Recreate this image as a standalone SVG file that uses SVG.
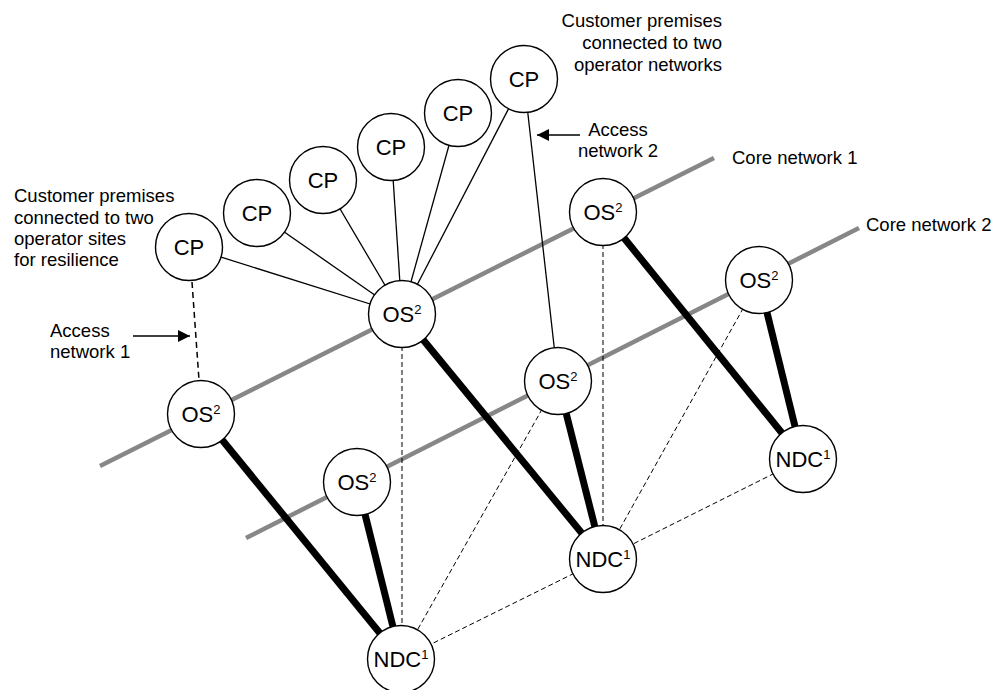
<svg xmlns="http://www.w3.org/2000/svg" width="994" height="690" viewBox="0 0 994 690">
<style>
.core{stroke:#878787;stroke-width:4.5;fill:none}
.thick{stroke:#000;stroke-width:7;fill:none}
.thin{stroke:#000;stroke-width:1.3;fill:none}
.dash{stroke:#000;stroke-width:1;stroke-dasharray:5 3;fill:none}
.dash2{stroke:#000;stroke-width:1.5;stroke-dasharray:6 4;fill:none}
.node circle{fill:#fff;stroke:#000;stroke-width:1.4}
.lbl{font-family:"Liberation Sans",Arial,sans-serif;font-size:22px;text-anchor:middle;fill:#000}
.sup{font-size:13px}
.ann{font-family:"Liberation Sans",Arial,sans-serif;font-size:18.5px;fill:#000}
</style>
<defs>
<marker id="ah" viewBox="0 0 10 10" refX="10" refY="5" markerWidth="13" markerHeight="12" markerUnits="userSpaceOnUse" orient="auto">
<path d="M0,0 L10,5 L0,10 z" fill="#000"/>
</marker>
</defs>
<rect width="994" height="690" fill="#fff"/>
<g id="core-networks">
<line class="core" x1="100" y1="466" x2="714" y2="158"/>
<line class="core" x1="246" y1="538" x2="859" y2="228"/>
</g>
<g id="connectors">
<line class="thin" x1="189" y1="247" x2="402" y2="314"/>
<line class="thin" x1="257" y1="213" x2="402" y2="314"/>
<line class="thin" x1="323" y1="180" x2="402" y2="314"/>
<line class="thin" x1="391" y1="147" x2="402" y2="314"/>
<line class="thin" x1="458" y1="113" x2="402" y2="314"/>
<line class="thin" x1="524" y1="79" x2="402" y2="314"/>
<line class="thin" x1="524" y1="79" x2="558" y2="381"/>
<line class="dash2" x1="192" y1="282" x2="199" y2="380"/>
<line class="thick" x1="201" y1="414" x2="401" y2="659"/>
<line class="thick" x1="357" y1="482" x2="401" y2="659"/>
<line class="thick" x1="402" y1="314" x2="603" y2="559"/>
<line class="thick" x1="558" y1="381" x2="603" y2="559"/>
<line class="thick" x1="603" y1="212" x2="803" y2="459"/>
<line class="thick" x1="759" y1="280" x2="803" y2="459"/>
<line class="dash" x1="402" y1="314" x2="402" y2="659"/>
<line class="dash" x1="558" y1="381" x2="401" y2="659"/>
<line class="dash" x1="603" y1="559" x2="401" y2="659"/>
<line class="dash" x1="603" y1="212" x2="603" y2="559"/>
<line class="dash" x1="759" y1="280" x2="603" y2="559"/>
<line class="dash" x1="803" y1="459" x2="603" y2="559"/>
<line class="thin" x1="580" y1="135" x2="537" y2="135" marker-end="url(#ah)"/>
<line class="thin" x1="133" y1="336" x2="190" y2="336" marker-end="url(#ah)"/>
</g>
<g id="cp1" class="node"><circle cx="189" cy="247" r="33.5"/><text class="lbl" x="189" y="255">CP</text></g>
<g id="cp2" class="node"><circle cx="257" cy="213" r="33.5"/><text class="lbl" x="257" y="221">CP</text></g>
<g id="cp3" class="node"><circle cx="323" cy="180" r="33.5"/><text class="lbl" x="323" y="188">CP</text></g>
<g id="cp4" class="node"><circle cx="391" cy="147" r="33.5"/><text class="lbl" x="391" y="155">CP</text></g>
<g id="cp5" class="node"><circle cx="458" cy="113" r="33.5"/><text class="lbl" x="458" y="121">CP</text></g>
<g id="cp6" class="node"><circle cx="524" cy="79" r="33.5"/><text class="lbl" x="524" y="87">CP</text></g>
<g id="os-a" class="node"><circle cx="201" cy="414" r="33.5"/><text class="lbl" x="201" y="422">OS<tspan class="sup" dy="-8">2</tspan></text></g>
<g id="os-b" class="node"><circle cx="402" cy="314" r="33.5"/><text class="lbl" x="402" y="322">OS<tspan class="sup" dy="-8">2</tspan></text></g>
<g id="os-c" class="node"><circle cx="558" cy="381" r="33.5"/><text class="lbl" x="558" y="389">OS<tspan class="sup" dy="-8">2</tspan></text></g>
<g id="os-d" class="node"><circle cx="357" cy="482" r="33.5"/><text class="lbl" x="357" y="490">OS<tspan class="sup" dy="-8">2</tspan></text></g>
<g id="os-e" class="node"><circle cx="603" cy="212" r="33.5"/><text class="lbl" x="603" y="220">OS<tspan class="sup" dy="-8">2</tspan></text></g>
<g id="os-f" class="node"><circle cx="759" cy="280" r="33.5"/><text class="lbl" x="759" y="288">OS<tspan class="sup" dy="-8">2</tspan></text></g>
<g id="ndc-1" class="node"><circle cx="401" cy="659" r="33.5"/><text class="lbl" x="401" y="667">NDC<tspan class="sup" dy="-8">1</tspan></text></g>
<g id="ndc-2" class="node"><circle cx="603" cy="559" r="33.5"/><text class="lbl" x="603" y="567">NDC<tspan class="sup" dy="-8">1</tspan></text></g>
<g id="ndc-3" class="node"><circle cx="803" cy="459" r="33.5"/><text class="lbl" x="803" y="467">NDC<tspan class="sup" dy="-8">1</tspan></text></g>
<g id="labels">
<text class="ann" x="14" y="202">Customer premises</text>
<text class="ann" x="14" y="224">connected to two</text>
<text class="ann" x="14" y="245">operator sites</text>
<text class="ann" x="14" y="266">for resilience</text>
<text class="ann" x="50" y="337">Access</text>
<text class="ann" x="50" y="358">network 1</text>
<text class="ann" x="722" y="27" text-anchor="end">Customer premises</text>
<text class="ann" x="722" y="49" text-anchor="end">connected to two</text>
<text class="ann" x="722" y="71" text-anchor="end">operator networks</text>
<text class="ann" x="618" y="136" text-anchor="middle">Access</text>
<text class="ann" x="618" y="157" text-anchor="middle">network 2</text>
<text class="ann" x="732" y="164">Core network 1</text>
<text class="ann" x="866" y="231">Core network 2</text>
</g>
</svg>
